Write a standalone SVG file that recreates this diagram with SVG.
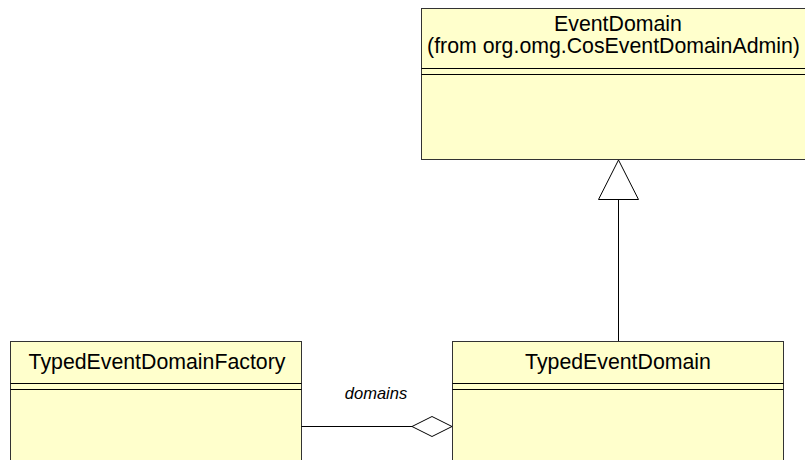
<svg xmlns="http://www.w3.org/2000/svg" width="805" height="460" viewBox="0 0 805 460">
<style>
.box{fill:#FFFFCC;stroke:#333;stroke-width:1}
.div{stroke:#000;stroke-width:1;fill:none}
.t{font-family:"Liberation Sans",Arial,sans-serif;font-size:21.3px;fill:#000;text-anchor:middle}
.lbl{font-family:"Liberation Sans",Arial,sans-serif;font-size:16.5px;font-style:italic;fill:#000;text-anchor:middle}
.c{stroke:#000;stroke-width:1;fill:none}
.h{fill:#fff;stroke:#000;stroke-width:1}
</style>
<rect width="805" height="460" fill="#fff"/>
<g id="EventDomain">
<rect class="box" x="421.5" y="8.5" width="395" height="151"/>
<line class="div" x1="421.5" y1="68.5" x2="816" y2="68.5"/>
<line class="div" x1="421.5" y1="74.5" x2="816" y2="74.5"/>
<text class="t" x="618" y="31">EventDomain</text>
<text class="t" x="613.5" y="53">(from org.omg.CosEventDomainAdmin)</text>
</g>
<g id="TypedEventDomainFactory">
<rect class="box" x="10.5" y="341.5" width="291" height="130"/>
<line class="div" x1="10.5" y1="383.5" x2="301.5" y2="383.5"/>
<line class="div" x1="10.5" y1="389.5" x2="301.5" y2="389.5"/>
<text class="t" x="157" y="369">TypedEventDomainFactory</text>
</g>
<g id="TypedEventDomain">
<rect class="box" x="452.5" y="341.5" width="331" height="130"/>
<line class="div" x1="452.5" y1="383.5" x2="783.5" y2="383.5"/>
<line class="div" x1="452.5" y1="389.5" x2="783.5" y2="389.5"/>
<text class="t" x="618" y="369">TypedEventDomain</text>
</g>
<g id="connectors">
<line class="c" x1="618.5" y1="199" x2="618.5" y2="341"/>
<polygon class="h" points="618.5,160 638.5,199.5 598.5,199.5"/>
<line class="c" x1="301.5" y1="426.5" x2="412" y2="426.5"/>
<polygon class="h" points="412,426.5 432,416.5 452,426.5 432,436.5"/>
<text class="lbl" x="376" y="399">domains</text>
</g>
</svg>
